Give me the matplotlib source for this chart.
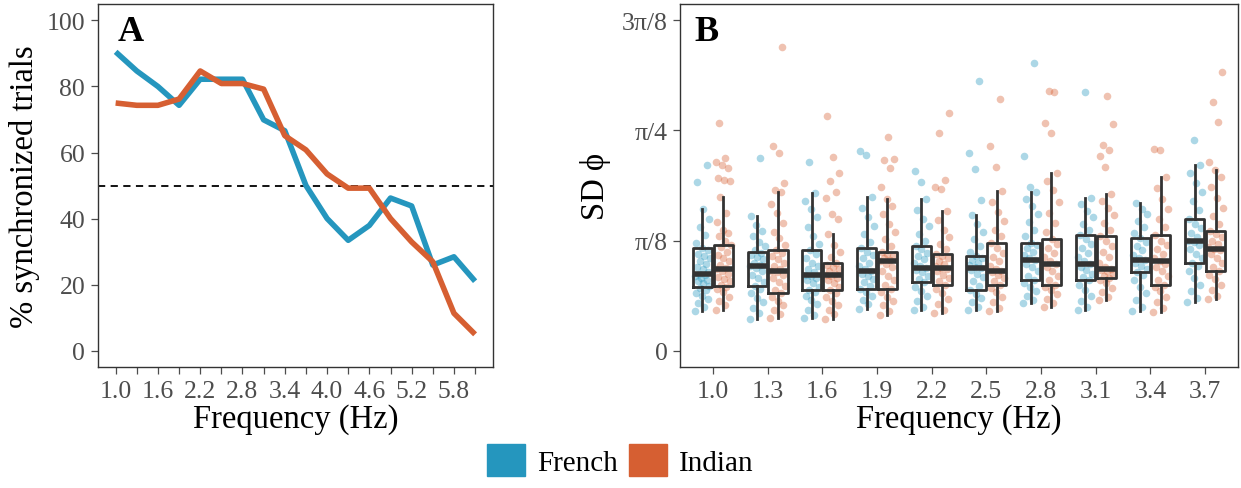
import numpy as np
import matplotlib
matplotlib.use('Agg')
import matplotlib.pyplot as plt
from matplotlib.patches import Patch

plt.rcParams['font.family'] = ['Liberation Serif', 'DejaVu Serif']

blue = '#2596BE'
orange = '#D65F32'
grey = '#4D4D4D'
dark = '#333333'

# ---- panel A data ----
freq_a = [1.0, 1.3, 1.6, 1.9, 2.2, 2.5, 2.8, 3.1, 3.4, 3.7, 4.0, 4.3, 4.6, 4.9, 5.2, 5.5, 5.8, 6.1]
french_sync = [90.5, 84.7, 80.0, 74.3, 82.2, 82.2, 82.2, 69.9, 66.6, 50.0, 40.0, 33.4, 37.9, 46.2, 43.8, 25.9, 28.4, 21.0]
indian_sync = [75.0, 74.3, 74.3, 76.2, 84.7, 80.9, 80.9, 79.2, 65.1, 60.8, 53.5, 49.2, 49.2, 40.0, 32.9, 26.9, 11.3, 4.9]

# ---- panel B data (SD phi, in units of pi/8) ----
freq_b = ['1.0', '1.3', '1.6', '1.9', '2.2', '2.5', '2.8', '3.1', '3.4', '3.7']

# box stats: low whisker, q1, median, q3, high whisker
fr_lo = [0.36, 0.29, 0.30, 0.38, 0.37, 0.37, 0.43, 0.37, 0.36, 0.44]
fr_q1 = [0.58, 0.59, 0.55, 0.56, 0.62, 0.55, 0.64, 0.64, 0.71, 0.80]
fr_med = [0.70, 0.77, 0.69, 0.72, 0.75, 0.75, 0.82, 0.79, 0.82, 1.00]
fr_q3 = [0.93, 0.90, 0.91, 0.93, 0.95, 0.86, 0.98, 1.05, 1.02, 1.20]
fr_hi = [1.29, 1.22, 1.43, 1.40, 1.38, 1.23, 1.44, 1.39, 1.34, 1.69]

in_lo = [0.37, 0.30, 0.29, 0.32, 0.34, 0.36, 0.40, 0.46, 0.35, 0.47]
in_q1 = [0.59, 0.52, 0.55, 0.56, 0.60, 0.60, 0.60, 0.66, 0.60, 0.72]
in_med = [0.74, 0.72, 0.69, 0.81, 0.75, 0.72, 0.79, 0.74, 0.81, 0.92]
in_q3 = [0.96, 0.91, 0.80, 0.90, 0.88, 0.98, 1.01, 1.04, 1.05, 1.09]
in_hi = [1.40, 1.44, 1.06, 1.38, 1.27, 1.45, 1.61, 1.42, 1.58, 1.64]

fr_pts = [
    [0.36, 0.40, 0.43, 0.47, 0.50, 0.52, 0.55, 0.57, 0.59, 0.61, 0.63, 0.64, 0.66, 0.68, 0.69, 0.70, 0.71,
     0.74, 0.76, 0.79, 0.81, 0.84, 0.86, 0.88, 0.91, 0.93, 0.98, 1.05, 1.12, 1.20, 1.29, 1.53, 1.69],
    [0.29, 0.34, 0.39, 0.44, 0.48, 0.52, 0.56, 0.59, 0.62, 0.66, 0.69, 0.72, 0.75, 0.77, 0.78, 0.80, 0.83,
     0.85, 0.87, 0.89, 0.91, 0.95, 0.99, 1.04, 1.09, 1.14, 1.22, 1.75],
    [0.30, 0.32, 0.37, 0.42, 0.46, 0.50, 0.53, 0.55, 0.58, 0.61, 0.64, 0.66, 0.68, 0.69, 0.71, 0.74, 0.77,
     0.80, 0.84, 0.88, 0.91, 0.97, 1.04, 1.12, 1.21, 1.29, 1.36, 1.43, 1.71],
    [0.38, 0.42, 0.46, 0.50, 0.53, 0.56, 0.59, 0.62, 0.65, 0.68, 0.70, 0.72, 0.74, 0.77, 0.80, 0.84, 0.87,
     0.90, 0.93, 0.99, 1.06, 1.13, 1.21, 1.30, 1.40, 1.78, 1.81],
    [0.37, 0.40, 0.45, 0.50, 0.54, 0.58, 0.62, 0.65, 0.68, 0.71, 0.73, 0.75, 0.77, 0.80, 0.83, 0.86, 0.89,
     0.92, 0.95, 1.00, 1.06, 1.13, 1.20, 1.28, 1.38, 1.53, 1.63],
    [0.37, 0.40, 0.44, 0.48, 0.51, 0.55, 0.59, 0.63, 0.67, 0.70, 0.73, 0.75, 0.76, 0.78, 0.80, 0.82, 0.84,
     0.86, 0.90, 0.95, 1.01, 1.08, 1.15, 1.23, 1.37, 1.65, 1.80, 2.45],
    [0.43, 0.46, 0.50, 0.54, 0.58, 0.61, 0.64, 0.68, 0.72, 0.76, 0.79, 0.82, 0.84, 0.87, 0.90, 0.93, 0.96,
     0.98, 1.04, 1.10, 1.17, 1.24, 1.31, 1.38, 1.44, 1.49, 1.77, 2.61],
    [0.37, 0.40, 0.45, 0.50, 0.55, 0.60, 0.64, 0.67, 0.70, 0.73, 0.76, 0.79, 0.81, 0.85, 0.89, 0.93, 0.97,
     1.01, 1.05, 1.10, 1.15, 1.21, 1.27, 1.33, 1.39, 2.35],
    [0.36, 0.40, 0.46, 0.52, 0.58, 0.64, 0.69, 0.71, 0.74, 0.77, 0.80, 0.82, 0.84, 0.87, 0.91, 0.95, 0.99,
     1.02, 1.07, 1.12, 1.18, 1.24, 1.29, 1.34],
    [0.44, 0.48, 0.54, 0.60, 0.66, 0.72, 0.77, 0.80, 0.84, 0.88, 0.92, 0.96, 0.99, 1.00, 1.03, 1.07, 1.11,
     1.15, 1.20, 1.28, 1.36, 1.44, 1.52, 1.61, 1.69, 1.91],
]

in_pts = [
    [0.37, 0.41, 0.45, 0.49, 0.53, 0.56, 0.58, 0.60, 0.63, 0.65, 0.67, 0.70, 0.72, 0.74, 0.75, 0.78, 0.81,
     0.84, 0.87, 0.90, 0.94, 0.96, 1.00, 1.04, 1.07, 1.10, 1.17, 1.25, 1.40, 1.54, 1.55, 1.57, 1.66, 1.69,
     1.71, 1.75, 2.07],
    [0.30, 0.33, 0.37, 0.41, 0.45, 0.49, 0.52, 0.55, 0.59, 0.62, 0.66, 0.69, 0.71, 0.72, 0.74, 0.77, 0.80,
     0.83, 0.86, 0.89, 0.91, 0.96, 1.02, 1.08, 1.16, 1.25, 1.33, 1.44, 1.46, 1.52, 1.80, 1.86, 2.76],
    [0.29, 0.33, 0.37, 0.41, 0.45, 0.49, 0.52, 0.55, 0.58, 0.61, 0.64, 0.66, 0.68, 0.69, 0.70, 0.72, 0.74,
     0.76, 0.78, 0.80, 0.85, 0.90, 0.96, 1.06, 1.20, 1.24, 1.39, 1.44, 1.54, 1.61, 1.76, 2.13],
    [0.32, 0.36, 0.41, 0.45, 0.49, 0.53, 0.56, 0.60, 0.64, 0.68, 0.72, 0.76, 0.79, 0.81, 0.82, 0.84, 0.86,
     0.88, 0.90, 0.95, 1.01, 1.08, 1.15, 1.24, 1.31, 1.38, 1.49, 1.66, 1.73, 1.74, 1.94],
    [0.34, 0.37, 0.42, 0.47, 0.52, 0.56, 0.60, 0.63, 0.66, 0.69, 0.72, 0.74, 0.75, 0.77, 0.79, 0.81, 0.84,
     0.86, 0.88, 0.92, 0.97, 1.03, 1.10, 1.19, 1.27, 1.47, 1.49, 1.55, 1.98, 2.16],
    [0.36, 0.39, 0.44, 0.49, 0.53, 0.57, 0.60, 0.63, 0.66, 0.69, 0.71, 0.72, 0.74, 0.77, 0.81, 0.85, 0.89,
     0.93, 0.98, 1.04, 1.10, 1.18, 1.26, 1.35, 1.45, 1.67, 1.86, 2.29],
    [0.40, 0.43, 0.47, 0.51, 0.55, 0.58, 0.60, 0.64, 0.68, 0.72, 0.76, 0.79, 0.81, 0.85, 0.89, 0.93, 0.97,
     1.01, 1.08, 1.16, 1.25, 1.35, 1.46, 1.54, 1.61, 1.98, 2.07, 2.35, 2.36],
    [0.46, 0.49, 0.53, 0.57, 0.61, 0.64, 0.66, 0.68, 0.70, 0.72, 0.73, 0.74, 0.76, 0.80, 0.85, 0.90, 0.95,
     1.00, 1.04, 1.10, 1.16, 1.23, 1.30, 1.36, 1.42, 1.67, 1.77, 1.82, 1.87, 2.06, 2.31],
    [0.35, 0.39, 0.44, 0.49, 0.54, 0.58, 0.60, 0.64, 0.68, 0.72, 0.76, 0.79, 0.81, 0.84, 0.88, 0.92, 0.96,
     1.00, 1.05, 1.12, 1.20, 1.29, 1.38, 1.48, 1.58, 1.82, 1.83],
    [0.47, 0.50, 0.55, 0.60, 0.65, 0.69, 0.72, 0.76, 0.80, 0.84, 0.88, 0.91, 0.92, 0.94, 0.97, 1.00, 1.03,
     1.06, 1.09, 1.15, 1.22, 1.30, 1.39, 1.49, 1.58, 1.64, 1.71, 2.08, 2.26, 2.53],
]

unit = np.pi / 8

fig = plt.figure(figsize=(12.41, 4.89), dpi=100)
axA = fig.add_axes([0.0787, 0.2474, 0.3186, 0.7424])
axB = fig.add_axes([0.548, 0.2474, 0.4496, 0.7424])

def style_axes(ax):
    for s in ax.spines.values():
        s.set_color(dark)
        s.set_linewidth(1.0)
    ax.tick_params(colors=grey, labelcolor=grey, labelsize=18.5, length=5, width=0.9, direction='out', pad=4)

# ---- A ----
axA.plot(freq_a, french_sync, color=blue, lw=4, solid_capstyle='butt', zorder=3)
axA.plot(freq_a, indian_sync, color=orange, lw=4, solid_capstyle='butt', zorder=3)
axA.axhline(50, color='black', ls=(0, (4, 3)), lw=1.3, zorder=2)
axA.set_xlim(1.0 - 0.255, 6.1 + 0.255)
axA.set_ylim(-5, 105)
axA.set_xticks(freq_a)
axA.set_xticklabels([f'{f:.1f}' if i % 2 == 0 else '' for i, f in enumerate(freq_a)])
axA.set_yticks([0, 20, 40, 60, 80, 100])
axA.set_xlabel('Frequency (Hz)', fontsize=23.5, labelpad=1)
axA.set_ylabel('% synchronized trials', fontsize=23.5, labelpad=5)
axA.text(0.05, 0.97, 'A', transform=axA.transAxes, fontsize=26, fontweight='bold', va='top', ha='left')
style_axes(axA)

# ---- B ----
xb = np.arange(len(freq_b))
dodge = 0.19
bw = 0.35

def jitter(n):
    return ((np.arange(n) * 0.618034) % 1 - 0.5) * 0.28

def box_stats(lo, q1, med, q3, hi):
    return [dict(whislo=a * unit, q1=b * unit, med=c * unit, q3=d * unit, whishi=e * unit, fliers=[])
            for a, b, c, d, e in zip(lo, q1, med, q3, hi)]

for i in range(len(freq_b)):
    v = np.array(fr_pts[i]) * unit
    axB.scatter(xb[i] - dodge + jitter(len(v)), v, s=30, color=blue, alpha=0.38, lw=0, zorder=2)
    v = np.array(in_pts[i]) * unit
    axB.scatter(xb[i] + dodge + jitter(len(v)), v, s=30, color=orange, alpha=0.38, lw=0, zorder=2)

boxprops = dict(color=dark, linewidth=2.0)
for stats, off in [(box_stats(fr_lo, fr_q1, fr_med, fr_q3, fr_hi), -dodge),
                   (box_stats(in_lo, in_q1, in_med, in_q3, in_hi), dodge)]:
    axB.bxp(stats, positions=xb + off, widths=bw, showfliers=False, showcaps=False,
            boxprops=boxprops, whiskerprops=dict(color=dark, linewidth=2.0),
            medianprops=dict(color=dark, linewidth=4, solid_capstyle='butt'),
            manage_ticks=False, zorder=3)

axB.set_xlim(-0.6, len(freq_b) - 0.4)
axB.set_ylim(-0.15 * unit, 3.15 * unit)
axB.set_xticks(xb)
axB.set_xticklabels(freq_b)
axB.set_yticks([0, unit, 2 * unit, 3 * unit])
axB.set_yticklabels(['0', 'π/8', 'π/4', '3π/8'])
axB.set_xlabel('Frequency (Hz)', fontsize=23.5, labelpad=1)
axB.set_ylabel('SD ϕ', fontsize=23.5, labelpad=8)
axB.text(0.025, 0.97, 'B', transform=axB.transAxes, fontsize=26, fontweight='bold', va='top', ha='left')
style_axes(axB)

handles = [Patch(color=blue), Patch(color=orange)]
fig.legend(handles, ['French', 'Indian'], loc='lower center', bbox_to_anchor=(0.5, -0.005),
           ncol=2, frameon=False, fontsize=21, handlelength=1.3, handleheight=1.3,
           handletextpad=0.4, columnspacing=0.4, borderpad=0.0)

fig.savefig('out.png', dpi=100)
